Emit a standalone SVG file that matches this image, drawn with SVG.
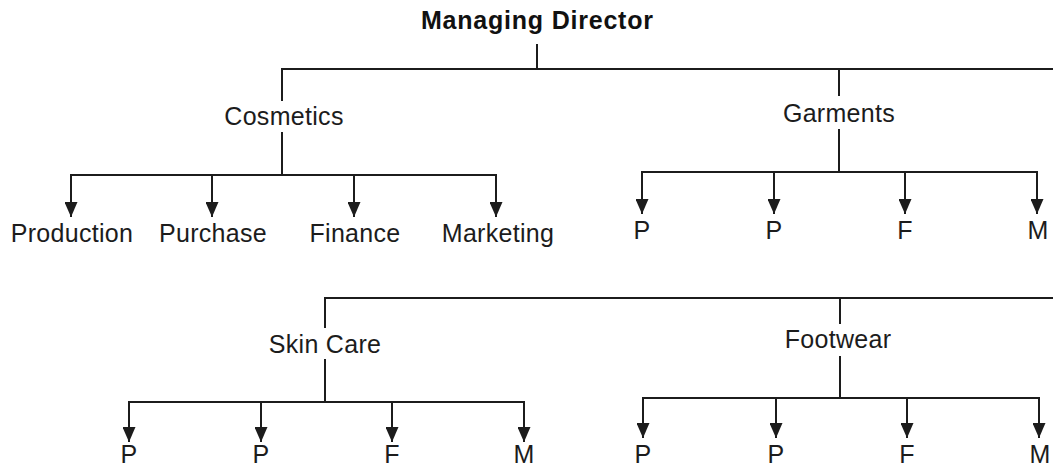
<svg xmlns="http://www.w3.org/2000/svg" width="1053" height="469" viewBox="0 0 1053 469">
  <style>
    .bg { fill: #ffffff; }
    .lbl { font-family: "Liberation Sans", Arial, Helvetica, sans-serif; font-size: 25px; fill: #1c1c1c; text-anchor: middle; letter-spacing: 0.3px; }
    .title { font-family: "Liberation Sans", Arial, Helvetica, sans-serif; font-size: 25px; font-weight: bold; fill: #111111; text-anchor: middle; }
    .ln { stroke: #1c1c1c; stroke-width: 2; fill: none; stroke-linecap: square; }
    .arr { stroke: #1c1c1c; stroke-width: 2; fill: none; marker-end: url(#ah); }
  </style>
  <defs>
    <marker id="ah" viewBox="0 -6.5 15 13" refX="15" refY="0" markerWidth="15" markerHeight="13" markerUnits="userSpaceOnUse" orient="auto">
      <path d="M0,-6.5 L15,0 L0,6.5 z" fill="#1c1c1c"/>
    </marker>
  </defs>
  <rect class="bg" x="0" y="0" width="1053" height="469"/>

  <g id="connectors">
    <!-- Managing Director to divisions -->
    <line class="ln" x1="537" y1="45" x2="537" y2="69"/>
    <line class="ln" x1="282" y1="69" x2="1053" y2="69"/>
    <!-- Cosmetics -->
    <line class="ln" x1="282" y1="69" x2="282" y2="100"/>
    <line class="ln" x1="282" y1="133" x2="282" y2="175"/>
    <line class="ln" x1="71" y1="175" x2="496" y2="175"/>
    <line class="arr" x1="71" y1="175" x2="71" y2="217"/>
    <line class="arr" x1="212" y1="175" x2="212" y2="217"/>
    <line class="arr" x1="354" y1="175" x2="354" y2="217"/>
    <line class="arr" x1="496" y1="175" x2="496" y2="217"/>
    <!-- Garments -->
    <line class="ln" x1="839" y1="69" x2="839" y2="95"/>
    <line class="ln" x1="839" y1="130" x2="839" y2="172"/>
    <line class="ln" x1="642" y1="172" x2="1037" y2="172"/>
    <line class="arr" x1="642" y1="172" x2="642" y2="214"/>
    <line class="arr" x1="774" y1="172" x2="774" y2="214"/>
    <line class="arr" x1="905" y1="172" x2="905" y2="214"/>
    <line class="arr" x1="1037" y1="172" x2="1037" y2="214"/>
    <!-- second row bus -->
    <line class="ln" x1="325" y1="298" x2="1053" y2="298"/>
    <!-- Skin Care -->
    <line class="ln" x1="325" y1="298" x2="325" y2="327"/>
    <line class="ln" x1="325" y1="360" x2="325" y2="402"/>
    <line class="ln" x1="129" y1="402" x2="524" y2="402"/>
    <line class="arr" x1="129" y1="402" x2="129" y2="442"/>
    <line class="arr" x1="261" y1="402" x2="261" y2="442"/>
    <line class="arr" x1="392" y1="402" x2="392" y2="442"/>
    <line class="arr" x1="524" y1="402" x2="524" y2="442"/>
    <!-- Footwear -->
    <line class="ln" x1="840" y1="298" x2="840" y2="323"/>
    <line class="ln" x1="840" y1="357" x2="840" y2="398"/>
    <line class="ln" x1="643" y1="398" x2="1039" y2="398"/>
    <line class="arr" x1="643" y1="398" x2="643" y2="438"/>
    <line class="arr" x1="776" y1="398" x2="776" y2="438"/>
    <line class="arr" x1="907" y1="398" x2="907" y2="438"/>
    <line class="arr" x1="1039" y1="398" x2="1039" y2="438"/>
  </g>

  <g id="managing-director"><text class="title" x="537" y="29" textLength="232" lengthAdjust="spacing">Managing Director</text></g>

  <g id="cosmetics"><text class="lbl" x="284" y="125">Cosmetics</text></g>
  <g id="cosmetics-production"><text class="lbl" x="72" y="242">Production</text></g>
  <g id="cosmetics-purchase"><text class="lbl" x="213" y="242">Purchase</text></g>
  <g id="cosmetics-finance"><text class="lbl" x="355" y="242">Finance</text></g>
  <g id="cosmetics-marketing"><text class="lbl" x="498" y="242">Marketing</text></g>

  <g id="garments"><text class="lbl" x="839" y="122">Garments</text></g>
  <g id="garments-p1"><text class="lbl" x="642" y="239">P</text></g>
  <g id="garments-p2"><text class="lbl" x="774" y="239">P</text></g>
  <g id="garments-f"><text class="lbl" x="905" y="239">F</text></g>
  <g id="garments-m"><text class="lbl" x="1038" y="239">M</text></g>

  <g id="skin-care"><text class="lbl" x="325" y="353">Skin Care</text></g>
  <g id="skincare-p1"><text class="lbl" x="129" y="463">P</text></g>
  <g id="skincare-p2"><text class="lbl" x="261" y="463">P</text></g>
  <g id="skincare-f"><text class="lbl" x="392" y="463">F</text></g>
  <g id="skincare-m"><text class="lbl" x="524" y="463">M</text></g>

  <g id="footwear"><text class="lbl" x="838" y="348">Footwear</text></g>
  <g id="footwear-p1"><text class="lbl" x="643" y="463">P</text></g>
  <g id="footwear-p2"><text class="lbl" x="776" y="463">P</text></g>
  <g id="footwear-f"><text class="lbl" x="907" y="463">F</text></g>
  <g id="footwear-m"><text class="lbl" x="1040" y="463">M</text></g>
</svg>
